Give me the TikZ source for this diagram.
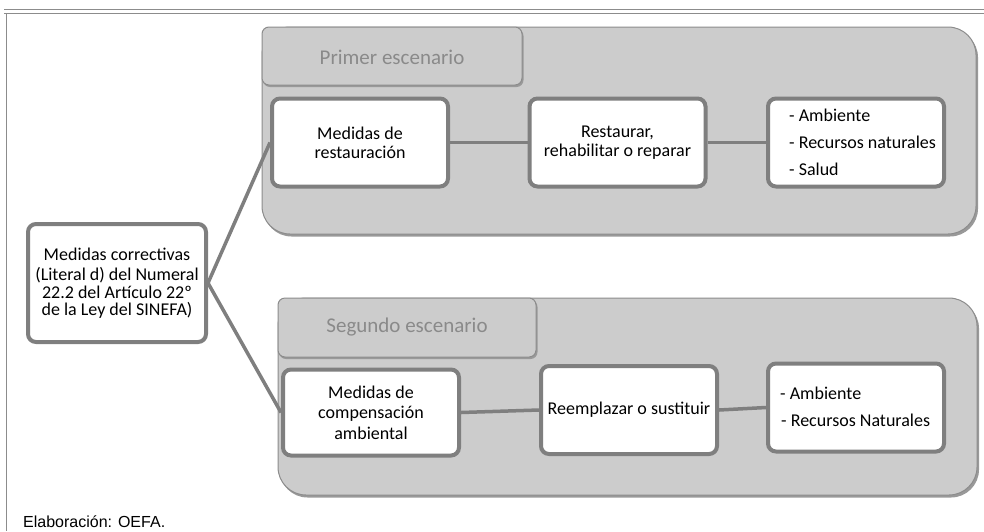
\documentclass[tikz,border=0pt]{standalone}
\usepackage{fontspec}
\setmainfont{Carlito}
\newfontfamily\arialf{Liberation Sans}
\definecolor{boxline}{HTML}{7F7F7F}
\definecolor{panelfill}{HTML}{CCCCCC}
\definecolor{panelline}{HTML}{8C8C8C}
\definecolor{shadowc}{HTML}{999999}
\definecolor{tabtext}{HTML}{8A8A8A}
\definecolor{framec}{HTML}{8C8C8C}
\tikzset{
  itembox/.style={draw=boxline, line width=4pt, fill=white, rounded corners=8pt, align=center, inner sep=2pt},
  listtxt/.style={anchor=west, align=left, inner sep=0pt, font=\fontsize{18}{27}\selectfont},
  panel/.style={fill=panelfill, draw=panelline, line width=1pt, rounded corners=28pt},
  panelshadow/.style={fill=shadowc, draw=none, rounded corners=28pt},
  tabbox/.style={fill=panelfill, draw=panelline, line width=1pt, rounded corners=7pt},
  tabshadow/.style={fill=shadowc, draw=none, rounded corners=7pt},
  tabtxt/.style={text=tabtext, font=\fontsize{21}{25}\selectfont},
  conn/.style={draw=boxline, line width=3.5pt},
  framel/.style={draw=framec, line width=1pt}
}
\begin{document}
\begin{tikzpicture}[x=1pt,y=-1pt]
\useasboundingbox (0,0) rectangle (984,531);
% frame
\draw[framel] (4,9.5) -- (984,9.5);
\draw[framel] (4,13.5) -- (984,13.5);
\draw[framel] (6,13.5) -- (6,531);
% panel 1
\path[panelshadow] (263.5,29.5) rectangle (978,236.5);
\path[panel] (262,27) rectangle (976,234);
\path[tabshadow] (263,29) rectangle (523.5,87);
\path[tabbox] (262,27) rectangle (522,85);
\node[tabtxt] (tab1) at (392,57) {Primer escenario};
% panel 2
\path[panelshadow] (279.5,300.5) rectangle (979,497.5);
\path[panel] (278,298) rectangle (977,495);
\path[tabshadow] (279,300) rectangle (537.5,359);
\path[tabbox] (278,298) rectangle (536,357);
\node[tabtxt] (tab2) at (407,327) {Segundo escenario};
% boxes
\node[itembox, minimum width=176pt, minimum height=88pt, font=\fontsize{18}{19}\selectfont] (b1) at (360,142.5) {Medidas de\\restauración};
\node[itembox, minimum width=176pt, minimum height=88pt, font=\fontsize{18}{19}\selectfont] (b2) at (617.5,142.5) {Restaurar,\\rehabilitar o reparar};
\node[itembox, minimum width=176pt, minimum height=88pt] (b3) at (856,142.5) {};
\node[listtxt] (b3t) at (789,142.5) {- Ambiente\\- Recursos naturales\\- Salud};
\node[itembox, minimum width=176pt, minimum height=86pt, font=\fontsize{18}{20.5}\selectfont] (b4) at (371,412.5) {Medidas de\\compensación\\ambiental};
\node[itembox, minimum width=176pt, minimum height=88pt, font=\fontsize{18}{19}\selectfont] (b5) at (629,410) {Reemplazar o sustituir};
\node[itembox, minimum width=176pt, minimum height=88pt] (b6) at (856,407.5) {};
\node[listtxt] (b6t) at (780,406.5) {- Ambiente\\\hspace*{1pt}- Recursos Naturales};
\node[itembox, minimum width=178pt, minimum height=118pt, inner sep=0pt, font=\fontsize{18}{17.5}\selectfont] (lb) at (117,283) {Medidas correctivas\\[3pt](Literal d) del Numeral\\22.2 del Artículo 22º\\de la Ley del SINEFA)};
% connectors
\draw[conn] (lb.east) -- (b1.west);
\draw[conn] (lb.east) -- (b4.west);
\draw[conn] (b1.east) -- (b2.west);
\draw[conn] (b2.east) -- (b3.west);
\draw[conn] (b4.east) -- (b5.west);
\draw[conn] (b5.east) -- (b6.west);
\node[anchor=base west, inner sep=0pt, font=\arialf\fontsize{16}{18}\selectfont] (elab) at (23,527.5) {Elaboración: OEFA.};
\end{tikzpicture}
\end{document}
